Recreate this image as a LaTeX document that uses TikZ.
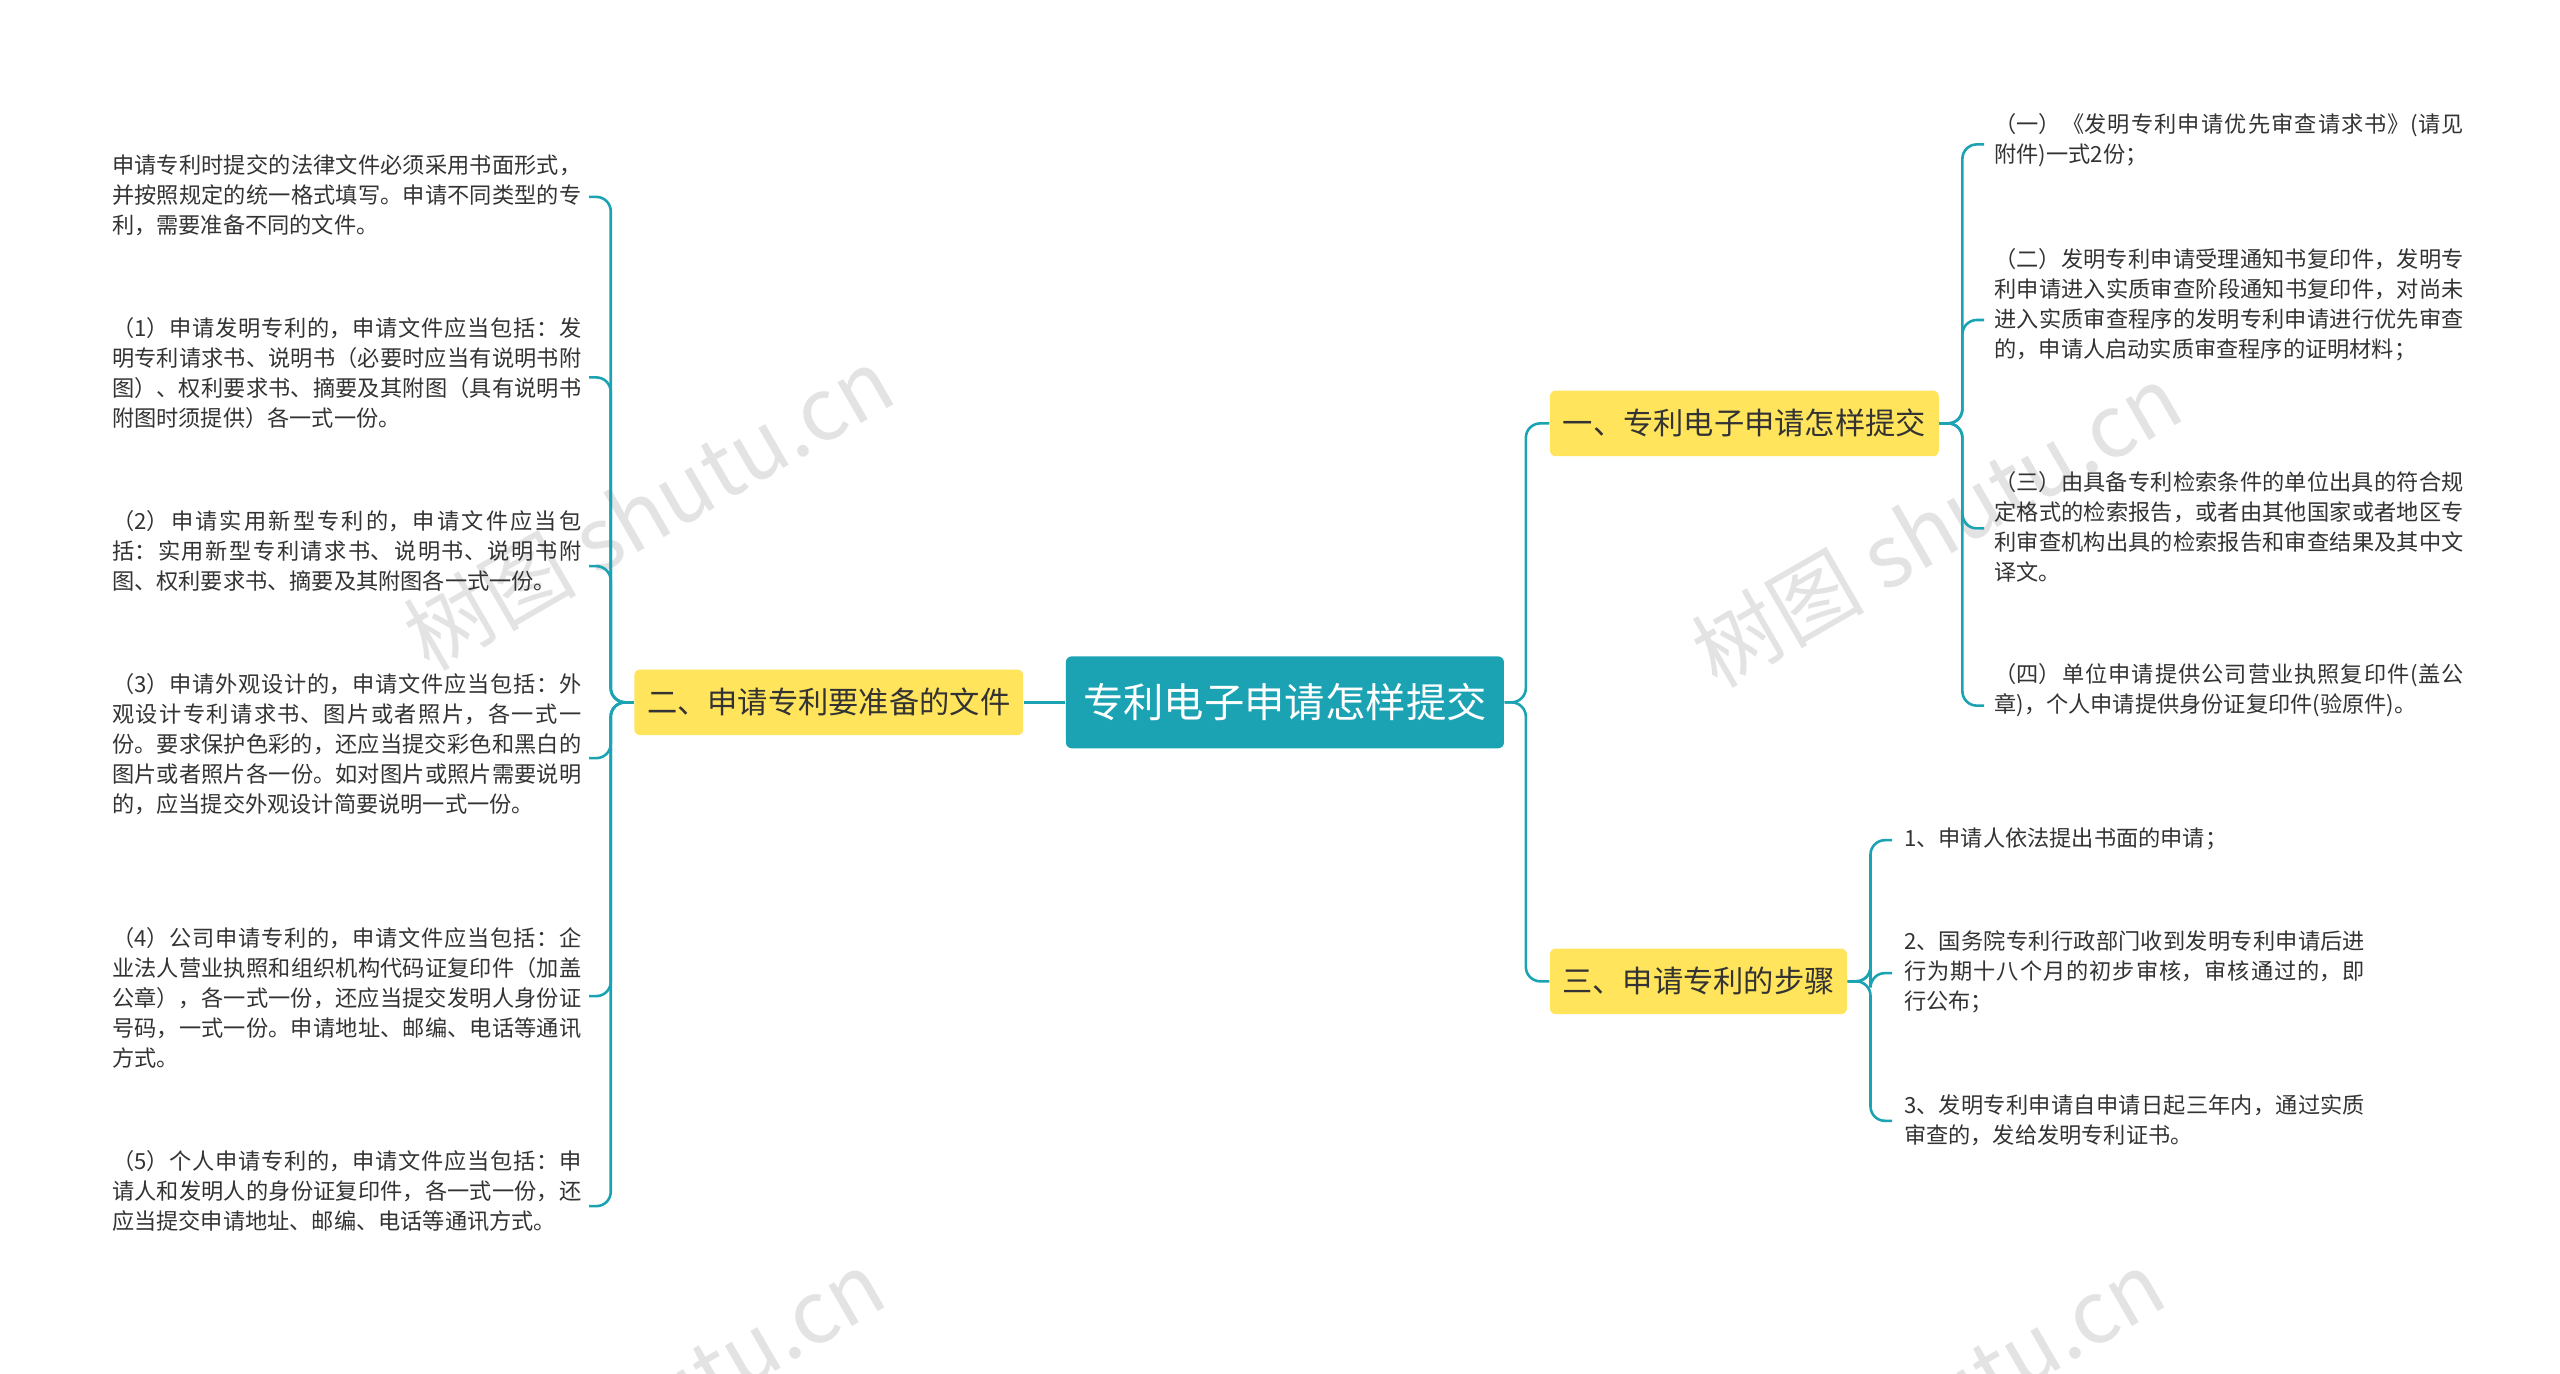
\documentclass[tikz,border=0pt]{standalone}
\usepackage{fontspec}
\setmainfont{Noto Sans CJK SC}
\XeTeXlinebreaklocale "zh"
\XeTeXlinebreakskip=0pt plus 1pt
\definecolor{teal}{HTML}{1BA3B3}
\definecolor{yel}{HTML}{FFE45C}
\definecolor{txt}{HTML}{333333}
\begin{document}
\begin{tikzpicture}[x=0.02cm,y=-0.02cm,
 leaf/.style={anchor=north west,text width=5.72cm,align=justify,font=\fontsize{7.7}{10.4}\selectfont,text=txt,inner sep=0pt},
 br/.style={fill=yel,rounded corners=2pt,font=\fontsize{10.5}{12}\selectfont,text=txt,inner sep=0pt,minimum height=0.8cm},
 con/.style={draw=teal,line width=0.9pt,rounded corners=5pt}]
\useasboundingbox (0,0) rectangle (1560,837);
\foreach \p in {(395,310),(1180,320),(390,860),(1170,860)}
 \node[rotate=30,text=black!11,font=\fontsize{30}{30}\selectfont] at \p {树图 shutu.cn};
\node[fill=teal,rounded corners=2pt,text=white,minimum width=5.34cm,minimum height=1.12cm,font=\fontsize{14}{16}\selectfont,inner sep=0pt] (c) at (783,428) {专利电子申请怎样提交};
\node[br,minimum width=4.74cm] (l) at (505,428) {二、申请专利要准备的文件};
\node[br,minimum width=4.74cm] (r1) at (1063,258) {一、专利电子申请怎样提交};
\node[br,minimum width=3.62cm] (r3) at (1035,598) {三、申请专利的步骤};
\draw[con] (c.west) -- (l.east);
\draw[con] (c.east) -- ++(13,0) |- (r1.west);
\draw[con] (c.east) -- ++(13,0) |- (r3.west);
% left leaves
\node[leaf] (a1) at (68,94) {申请专利时提交的法律文件必须采用书面形式，并按照规定的统一格式填写。申请不同类型的专利，需要准备不同的文件。};
\node[leaf] (a2) at (68,193) {（1）申请发明专利的，申请文件应当包括：发明专利请求书、说明书（必要时应当有说明书附图）、权利要求书、摘要及其附图（具有说明书附图时须提供）各一式一份。};
\node[leaf] (a3) at (68,311) {（2）申请实用新型专利的，申请文件应当包括：实用新型专利请求书、说明书、说明书附图、权利要求书、摘要及其附图各一式一份。};
\node[leaf] (a4) at (68,410) {（3）申请外观设计的，申请文件应当包括：外观设计专利请求书、图片或者照片，各一式一份。要求保护色彩的，还应当提交彩色和黑白的图片或者照片各一份。如对图片或照片需要说明的，应当提交外观设计简要说明一式一份。};
\node[leaf] (a5) at (68,565) {（4）公司申请专利的，申请文件应当包括：企业法人营业执照和组织机构代码证复印件（加盖公章），各一式一份，还应当提交发明人身份证号码，一式一份。申请地址、邮编、电话等通讯方式。};
\node[leaf] (a6) at (68,701) {（5）个人申请专利的，申请文件应当包括：申请人和发明人的身份证复印件，各一式一份，还应当提交申请地址、邮编、电话等通讯方式。};
\foreach \n/\y in {1/120,2/230,3/345,4/462,5/607,6/735}{
 \coordinate (ha\n) at (359,\y);
 \draw[con] (l.west) -- ++(-14,0) |- (ha\n);}
% right leaves
\node[leaf] (b1) at (1215,69) {（一）《发明专利申请优先审查请求书》(请见附件)一式2份；};
\node[leaf] (b2) at (1215,151) {（二）发明专利申请受理通知书复印件，发明专利申请进入实质审查阶段通知书复印件，对尚未进入实质审查程序的发明专利申请进行优先审查的，申请人启动实质审查程序的证明材料；};
\node[leaf] (b3) at (1215,287) {（三）由具备专利检索条件的单位出具的符合规定格式的检索报告，或者由其他国家或者地区专利审查机构出具的检索报告和审查结果及其中文译文。};
\node[leaf] (b4) at (1215,404) {（四）单位申请提供公司营业执照复印件(盖公章)，个人申请提供身份证复印件(验原件)。};
\foreach \n/\y in {1/88,2/195,3/322,4/430}{
 \coordinate (hb\n) at (1209,\y);
 \draw[con] (r1.east) -- ++(14,0) |- (hb\n);}
\node[leaf] (d1) at (1160,504) {1、申请人依法提出书面的申请；};
\node[leaf,text width=5.62cm] (d2) at (1160,567) {2、国务院专利行政部门收到发明专利申请后进行为期十八个月的初步审核，审核通过的，即行公布；};
\node[leaf,text width=5.62cm] (d3) at (1160,667) {3、发明专利申请自申请日起三年内，通过实质审查的，发给发明专利证书。};
\foreach \n/\y in {1/512,2/593,3/683}{
 \coordinate (hd\n) at (1153,\y);
 \draw[con] (r3.east) -- ++(14,0) |- (hd\n);}
\end{tikzpicture}
\end{document}
